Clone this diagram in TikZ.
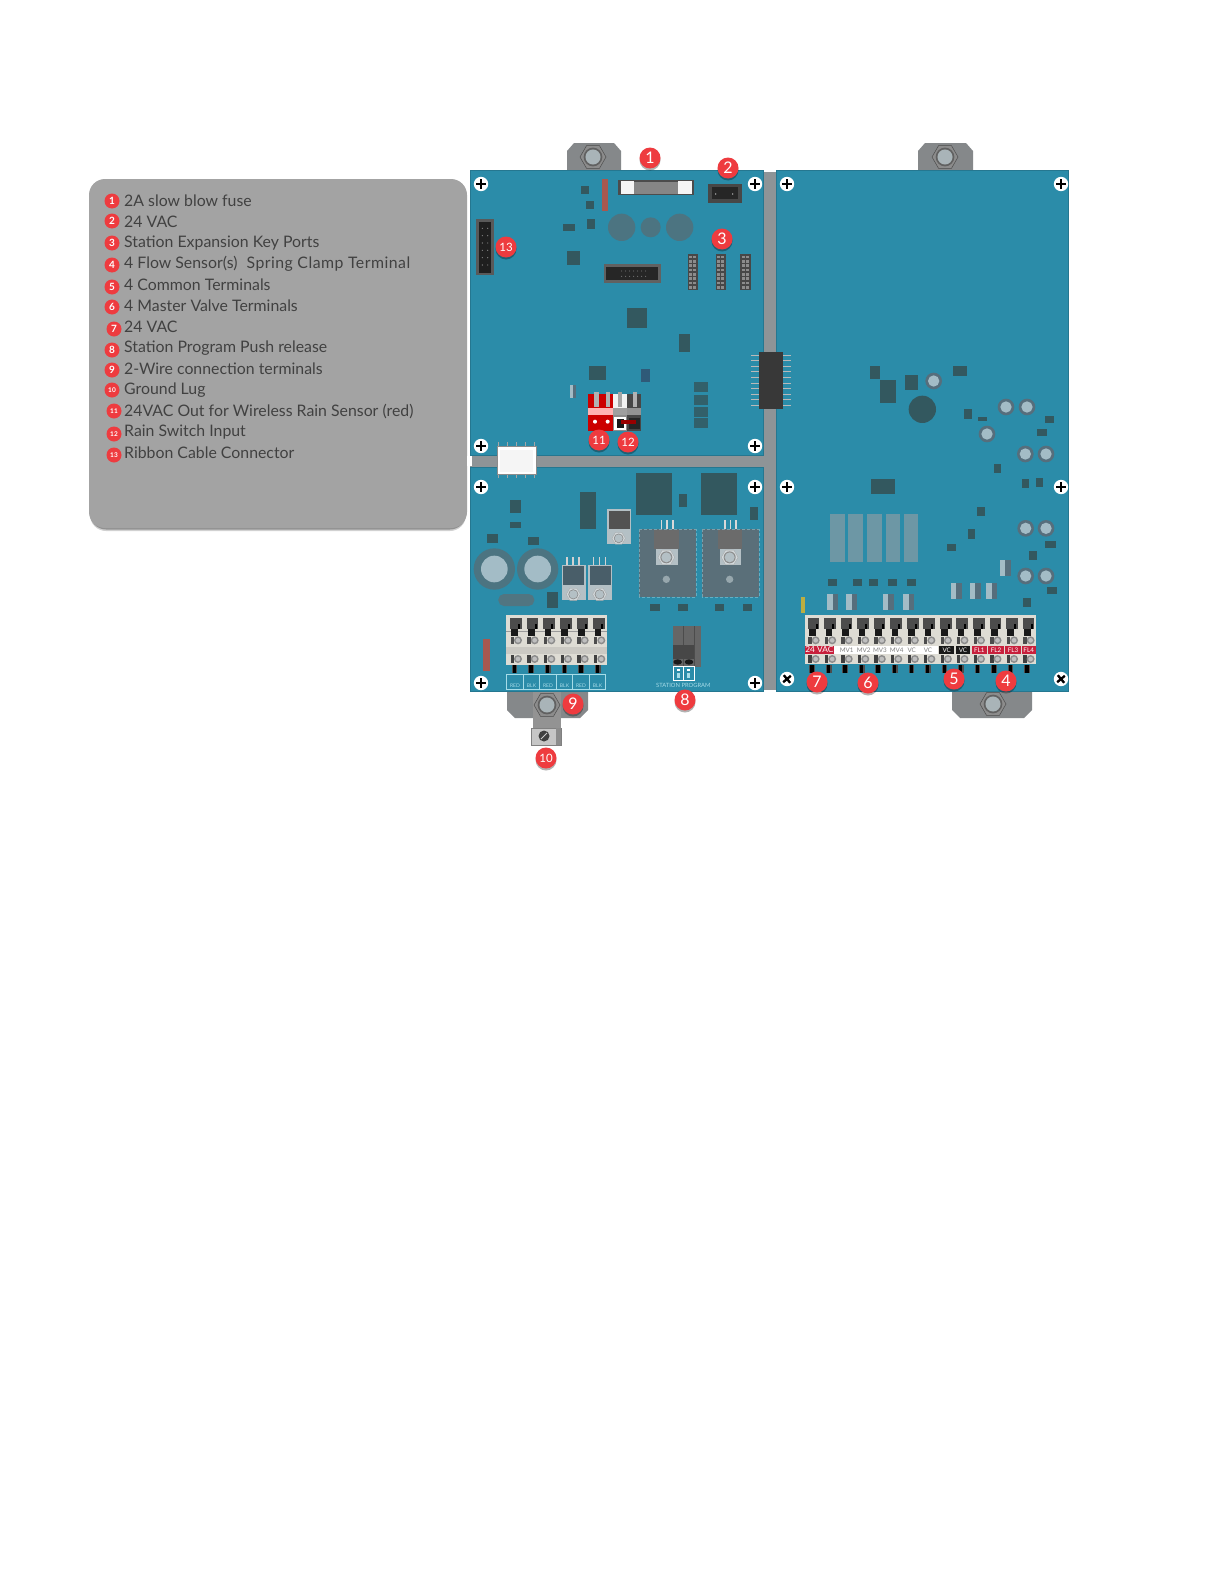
\documentclass[tikz,border=0pt]{standalone}
\usepackage{fontspec}
\setmainfont{Lato}
\usetikzlibrary{shadows}
\definecolor{boardc}{HTML}{2B8CA9}
\definecolor{chipc}{HTML}{33585F}
\definecolor{softc}{HTML}{4C7481}
\definecolor{barc}{HTML}{8E9497}
\definecolor{tabc}{HTML}{85888A}
\definecolor{redc}{HTML}{EE3B3F}
\definecolor{rustc}{HTML}{A8584F}
\definecolor{ringc}{HTML}{566E7C}
\definecolor{capc}{HTML}{A3BCC6}
\definecolor{labelred}{HTML}{C8203C}
\definecolor{txtc}{HTML}{414141}
\definecolor{pale}{HTML}{A6DCE8}
\definecolor{sinkc}{HTML}{5A6F79}
\definecolor{relayc}{HTML}{6D97A5}
\definecolor{plate}{HTML}{B4C0C5}
\definecolor{termbg}{HTML}{DEDCD4}
\definecolor{bluechip}{HTML}{2F5A78}
\tikzset{
  badge/.style={circle,fill=redc,text=white,minimum size=21pt,inner sep=0pt,
    font=\fontsize{16}{16}\selectfont,drop shadow={shadow xshift=0pt,shadow yshift=-2pt,fill=black,opacity=.3}},
  minibadge/.style={circle,fill=redc,text=white,minimum size=15pt,inner sep=0pt,font=\fontsize{10}{10}\selectfont\bfseries},
  legendtext/.style={anchor=west,inner sep=0pt,text=txtc,font=\fontsize{15.85}{16}\selectfont},
  striplabel/.style={inner sep=0pt,font=\fontsize{6.3}{7}\selectfont},
  tinylabel/.style={inner sep=0pt,text=pale,font=\fontsize{5}{6}\selectfont},
  zoomA/.style={shift={(465,135)},x=.33333pt,y=-.33333pt},
  zoomB/.style={shift={(465,450)},x=.33333pt,y=-.33333pt},
  zoomC/.style={shift={(770,135)},x=.33333pt,y=-.33333pt},
  zoomD/.style={shift={(770,470)},x=.33333pt,y=-.33333pt},
}
\newcommand\bx[5]{\fill[#5] (#1,#2) rectangle (#3,#4);}
\newcommand\capring[2]{\fill[ringc] (#1,#2) circle (25);\fill[capc] (#1,#2) circle (17);}
\newcommand\hexnut[3]{\begin{scope}[shift={(#1,#2)}]
  \fill[black!45,draw=black!70,line width=.5pt] (0:#3)--(60:#3)--(120:#3)--(180:#3)--(240:#3)--(300:#3)--cycle;
  \fill[black!62] (0,0) circle (#3*.72);
  \fill[capc!55!gray!80] (0,0) circle (#3*.58);\end{scope}}
\newcommand\lightnut[3]{\begin{scope}[shift={(#1,#2)}]
  \fill[plate!60!white,draw=gray!70,line width=.3pt] (0:#3)--(60:#3)--(120:#3)--(180:#3)--(240:#3)--(300:#3)--cycle;
  \fill[gray!90] (0,0) circle (#3*.72);
  \fill[plate] (0,0) circle (#3*.6);\end{scope}}
\newcommand\screwmark[3]{\begin{scope}[shift={(#1,#2)},rotate=#3]
  \fill[white] (0,0) circle (7.2);
  \draw[black,line width=2.3pt] (-5,0)--(5,0) (0,-5)--(0,5);\end{scope}}
\newcommand\termcol{%
  \bx{0}{443}{35}{478}{black!70}
  \bx{24}{462}{30}{478}{black}
  \bx{4}{478}{24}{498}{black!90}
  \fill[gray!90] (24,511) circle (12);\fill[gray!50] (24,511) circle (7);
  \bx{2}{500}{12}{522}{black!70}
  \bx{2}{556}{12}{578}{black!75}
  \fill[gray!90] (24,567) circle (12);\fill[gray!50] (24,567) circle (7);
  \bx{5}{584}{22}{608}{black!70}
  \bx{8}{584}{18}{608}{black}}
\begin{document}
\begin{tikzpicture}[x=1pt,y=-1pt]
\useasboundingbox (0,0) rectangle (1224,1584);
\fill[white] (0,0) rectangle (1224,1584);
% legend panel
\fill[black,opacity=.18,rounded corners=16pt] (90,183) rectangle (466,531);
\fill[black,opacity=.3,rounded corners=16pt] (90,183) rectangle (466,529.5);
\fill[black!36,rounded corners=16pt] (89,179) rectangle (467,528);
\foreach \n/\bxx/\byy/\lab in {
 1/112/201/{2A slow blow fuse},
 2/112/221/{24 VAC},
 3/112/243/{Station Expansion Key Ports},
 4/112/265/{4 Flow Sensor(s)\ \ \hspace{1pt}{\addfontfeature{LetterSpace=3}Spring Clamp Terminal}},
 5/112/287/{4 Common Terminals},
 6/112/307/{4 Master Valve Terminals},
 7/114/329/{24 VAC},
 8/112/350/{Station Program Push release},
 9/112/370/{2-Wire connection terminals},
 10/112/390/{Ground Lug},
 11/114/411/{24VAC Out for Wireless Rain Sensor (red)},
 12/114/434/{Rain Switch Input},
 13/114/455/{Ribbon Cable Connector}}{
  \pgfmathsetmacro\ty{201.2+21*(\n-1)}
  \ifnum\n>9
    \node[minibadge,font=\fontsize{6.5}{7}\selectfont\bfseries] (lb\n) at (\bxx,\byy) {\n};
  \else
    \node[minibadge] (lb\n) at (\bxx,\byy) {\n};
  \fi
  \node[legendtext] (lt\n) at (124,\ty) {\lab};
}
% tabs behind the boards
\fill[tabc] (567,171)--(567,151)--(574,143)--(614,143)--(621,151)--(621,171)--cycle;
\fill[tabc] (918,171)--(918,151)--(925,143)--(966,143)--(973,151)--(973,171)--cycle;
\fill[tabc] (952,690)--(952,710)--(960,718)--(1024,718)--(1032,710)--(1032,690)--cycle;
\fill[tabc] (507,690)--(507,710)--(515,718)--(580,718)--(588,710)--(588,690)--cycle;
\hexnut{593}{157}{13}
\hexnut{945}{157}{13}
\hexnut{993}{704}{13}
% grey frame
\bx{470}{455}{763}{467}{barc}
\bx{763}{172}{776}{690}{barc}
\bx{467}{456}{472}{466}{white}
% boards
\fill[boardc,draw=boardc!85!black,line width=.4pt] (470,170) rectangle (763,455);
\fill[boardc,draw=boardc!85!black,line width=.4pt] (470,467) rectangle (763,691);
\fill[boardc,draw=boardc!85!black,line width=.4pt] (776,170) rectangle (1068,691);
% ground lug
\fill[gray!85] (533,692) rectangle (561,728);
\hexnut{547}{705}{13}
\fill[gray!45,draw=gray] (531,728) rectangle (561,745);
\fill[gray!90] (556,728) rectangle (561,745);
\fill[black!75] (544,736) circle (5.5);
\draw[gray!40,line width=.8pt] (541,739)--(547,733);
% bridge connector
\foreach \k in {0,...,9}{
  \draw[gray!55,line width=1pt] (751,355+5.6*\k)--(791,355+5.6*\k);
}
\bx{759}{352}{783}{409}{black!78}
% white connector on the bar
\foreach \k in {0,...,4}{
  \draw[gray!70,line width=.8pt] (498+\k*9,442)--(498+\k*9,478);
}
\fill[white,draw=gray!90,line width=.8pt] (497,446) rectangle (536,474);
\fill[gray!8] (500,450) rectangle (533,472);
% ---- upper left board
\begin{scope}[zoomA]
\bx{349}{153}{372}{178}{chipc}
\bx{363}{197}{387}{222}{chipc}
\bx{367}{253}{390}{282}{chipc}
\bx{293}{267}{330}{288}{chipc}
\bx{306}{347}{345}{390}{chipc}
\bx{411}{133}{429}{228}{rustc}
\fill[softc] (470,277) circle (41);
\fill[softc] (557,277) circle (30);
\fill[softc] (644,277) circle (41);
\bx{458}{135}{688}{180}{black!70}
\bx{507}{140}{640}{177}{gray!95}
\bx{468}{138}{507}{177}{white!92!gray}
\bx{640}{138}{680}{177}{white!92!gray}
\bx{729}{147}{830}{203}{black!72}
\bx{740}{155}{820}{192}{black!85}
\fill[white] (752,177) circle (2);\fill[white] (803,177) circle (2);
\bx{33}{252}{86}{421}{black!65}
\bx{42}{262}{78}{413}{black!88}
\foreach \k in {0,...,5}{
  \fill[gray] (52,280+\k*22) circle (2);\fill[gray] (68,280+\k*22) circle (2);
}
\bx{417}{388}{588}{443}{black!62}
\bx{424}{396}{580}{436}{black!85}
\foreach \k in {0,...,6}{
  \fill[gray] (470+\k*12,408) circle (1.6);\fill[gray] (470+\k*12,424) circle (1.6);
}
\foreach \px in {668,752,826}{
  \bx{\px}{357}{\px+31}{464}{black!72}
  \foreach \k in {0,...,7}{
    \bx{\px+5}{362+\k*13}{\px+13}{370+\k*13}{gray!90}
    \bx{\px+17}{362+\k*13}{\px+25}{370+\k*13}{gray!90}
  }
}
\bx{487}{520}{546}{578}{chipc}
\bx{643}{598}{675}{651}{chipc}
\bx{371}{693}{423}{736}{chipc}
\bx{527}{701}{555}{742}{bluechip}
\bx{688}{741}{728}{772}{chipc!85!boardc}
\bx{688}{780}{728}{810}{chipc!85!boardc}
\bx{688}{815}{728}{845}{chipc!85!boardc}
\bx{688}{849}{728}{879}{chipc!85!boardc}
\bx{315}{750}{333}{790}{capc}
\bx{324}{750}{333}{790}{ringc}
% rain terminals
\bx{368}{778}{444}{888}{red!80!black}
\bx{444}{778}{486}{888}{gray!90}
\bx{486}{778}{529}{888}{black!72}
\bx{444}{778}{486}{820}{white!90!gray}
\bx{368}{820}{444}{840}{red!30!white}
\bx{444}{820}{486}{840}{gray!75}
\bx{486}{820}{529}{840}{gray!85}
\bx{388}{772}{402}{815}{gray!60}
\bx{422}{772}{436}{815}{gray!60}
\bx{458}{772}{472}{815}{gray!70}
\bx{503}{772}{517}{815}{gray!60}
\fill[white] (390,860) circle (6);
\fill[white] (428,860) circle (6);
\bx{448}{846}{484}{885}{white}
\bx{455}{852}{478}{878}{black!90}
\bx{491}{848}{525}{882}{black!85}
\bx{468}{854}{512}{868}{red!60!black}
\end{scope}
% ---- lower left board
\begin{scope}[zoomB]
\bx{513}{68}{621}{195}{chipc}
\bx{707}{68}{815}{195}{chipc}
\bx{643}{133}{666}{172}{chipc}
\bx{856}{172}{878}{211}{chipc}
\bx{345}{126}{392}{238}{chipc}
\bx{134}{150}{167}{190}{chipc}
\bx{134}{216}{168}{234}{chipc}
\bx{66}{252}{100}{280}{chipc}
\bx{188}{262}{221}{286}{chipc}
\bx{246}{427}{279}{473}{chipc}
\fill[softc!90!gray,rounded corners=5.6pt] (100,432) rectangle (208,468);
\fill[softc] (88,357) circle (62);\fill[capc] (88,357) circle (40);
\fill[softc] (218,357) circle (62);\fill[capc] (218,357) circle (40);
% regulators
\fill[plate] (426,176) rectangle (498,282);
\bx{432}{182}{494}{238}{black!68}
\lightnut{461}{265}{20}
\foreach \px in {290,369}{
  \foreach \k in {0,1,2}{\bx{\px+14+\k*18}{320}{\px+18+\k*18}{345}{gray!35}}
  \fill[plate] (\px,345) rectangle (\px+72,450);
  \bx{\px+5}{348}{\px+68}{405}{ringc!85!black}
  \lightnut{\px+35}{433}{21}
}
\foreach \sx in {0,190}{
  \begin{scope}[shift={(\sx,0)}]
  \bx{522}{238}{692}{440}{sinkc}
  \draw[pale,opacity=.45,densely dashed,line width=.3pt] (522,238) rectangle (692,440);
  \foreach \k in {0,1,2}{\bx{587+\k*17}{210}{592+\k*17}{238}{gray!30}}
  \bx{568}{240}{642}{298}{black!58}
  \bx{574}{298}{638}{346}{plate}
  \lightnut{604}{322}{25}
  \fill[capc!65!gray] (604,388) circle (11);
  \end{scope}
}
\bx{556}{462}{584}{482}{chipc}
\bx{640}{462}{668}{482}{chipc}
\bx{750}{462}{776}{482}{chipc}
\bx{833}{462}{860}{482}{chipc}
\bx{54}{566}{74}{662}{rustc}
% station program switch
\bx{624}{528}{708}{650}{gray!80!black}
\bx{624}{528}{656}{650}{black!60}
\bx{656}{528}{688}{650}{black!60}
\draw[black!70,line width=.4pt] (656,528)--(656,650) (688,528)--(688,650);
\bx{624}{585}{688}{628}{black!72}
\fill[black!90] (638,636) ellipse (13 and 8);
\fill[black!90] (672,636) ellipse (13 and 8);
\foreach \px in {624,656}{
  \draw[white,line width=.5pt] (\px,650) rectangle (\px+31,692);
  \bx{\px+11}{656}{\px+20}{664}{white}
  \bx{\px+11}{670}{\px+20}{685}{pale}
}
% wire block
\bx{124}{495}{426}{645}{termbg}
\bx{124}{590}{426}{612}{termbg!80!gray}
\draw[black!40,line width=.4pt] (124,545)--(426,545);
\foreach \k in {0,...,5}{
  \begin{scope}[shift={(135+50*\k,60)}]\termcol\end{scope}
}
\foreach \k/\wlab in {0/RED,1/BLK,2/RED,3/BLK,4/RED,5/BLK}{
  \draw[pale,line width=.5pt] (125+\k*49.5,672) rectangle (125+\k*49.5+49.5,717);
  \node[tinylabel] (wl\k) at (125+\k*49.5+25,707) {\wlab};
}
\node[tinylabel,font=\fontsize{5.8}{6}\selectfont] (stationprog) at (655,707) {STATION PROGRAM};
\end{scope}
% ---- upper part of right board
\begin{scope}[zoomC]
\bx{299}{693}{330}{733}{chipc}
\bx{331}{736}{378}{805}{chipc}
\bx{406}{719}{444}{764}{chipc}
\bx{549}{692}{590}{724}{chipc}
\fill[chipc] (457,823) circle (41);
\capring{491}{738}
\bx{583}{823}{605}{852}{chipc}
\bx{625}{846}{651}{859}{chipc}
\capring{708}{816}
\capring{771}{816}
\capring{651}{897}
\capring{766}{957}
\capring{828}{957}
\bx{825}{842}{853}{863}{chipc}
\bx{802}{882}{831}{903}{chipc}
\bx{672}{987}{692}{1015}{chipc}
\end{scope}
% ---- lower part of right board
\begin{scope}[zoomD]
\bx{303}{27}{376}{73}{chipc}
\foreach \px in {180,235,291,347,401}{\bx{\px}{133}{\px+44}{275}{relayc}}
\foreach \px in {174,249,296,354,410}{\bx{\px}{327}{\px+28}{349}{chipc}}
\foreach \px/\py in {172/373,229/373,339/373,400/373,543/338,600/338,649/338,689/270}{
  \bx{\px}{\py}{\px+16}{\py+48}{capc}
  \bx{\px+16}{\py}{\px+33}{\py+48}{ringc}
}
\fill[rustc!30!yellow!60!gray] (94,382) rectangle (104,430);
\bx{622}{110}{644}{137}{chipc}
\bx{594}{178}{615}{206}{chipc}
\bx{532}{223}{559}{243}{chipc}
\bx{757}{28}{777}{55}{chipc}
\bx{798}{24}{820}{50}{chipc}
\bx{778}{242}{802}{270}{chipc}
\bx{826}{213}{858}{233}{chipc}
\bx{832}{352}{862}{373}{chipc}
\bx{759}{384}{783}{410}{chipc}
\bx{672}{0}{692}{10}{chipc}
\capring{767}{175}
\capring{828}{175}
\capring{767}{318}
\capring{828}{318}
% terminal strip
\bx{104}{435}{798}{582}{termbg}
\foreach \k in {0,...,13}{
  \begin{scope}[shift={(113+49.6*\k,0)}]\termcol\end{scope}
}
\bx{104}{528}{192}{552}{labelred}
\bx{192}{528}{505}{552}{white}
\bx{507}{528}{553}{552}{black!90}
\bx{558}{528}{600}{552}{black!90}
\bx{605}{528}{650}{552}{labelred}
\bx{655}{528}{702}{552}{labelred}
\bx{706}{528}{752}{552}{labelred}
\bx{755}{528}{798}{552}{labelred}
\node[striplabel,text=white,font=\fontsize{8.3}{9}\selectfont] (s24) at (148,540) {24 VAC};
\foreach \nm/\xx/\cc in {MV1/230/gray,MV2/281/gray,MV3/330/gray,MV4/380/gray,VC/425/gray,VC/474/gray,VC/530/white,VC/579/white,FL1/628/white,FL2/678/white,FL3/729/white,FL4/776/white}{
  \node[striplabel,text=\cc] (s\xx) at (\xx,540) {\nm};
}
\end{scope}
% screws
\screwmark{481}{184}{0}
\screwmark{755}{184}{0}
\screwmark{481}{446}{0}
\screwmark{755}{446}{0}
\screwmark{481}{487}{0}
\screwmark{755}{487}{0}
\screwmark{481}{683}{0}
\screwmark{755}{683}{0}
\screwmark{787}{184}{0}
\screwmark{1061}{184}{0}
\screwmark{787}{487}{0}
\screwmark{1061}{487}{0}
\screwmark{787}{679}{40}
\screwmark{1061}{679}{40}
% numbered badges
\node[badge] (b1) at (650,158) {1};
\node[badge] (b2) at (728,168) {2};
\node[badge] (b3) at (722,239) {3};
\node[badge] (b4) at (1006,681) {4};
\node[badge] (b5) at (954,679) {5};
\node[badge] (b6) at (868,683) {6};
\node[badge] (b7) at (817,682) {7};
\node[badge] (b8) at (685,700) {8};
\node[badge] (b9) at (573,704) {9};
\node[badge,font=\fontsize{11.5}{12}\selectfont] (b10) at (546,758) {10};
\node[badge,font=\fontsize{11.5}{12}\selectfont] (b11) at (599,440) {11};
\node[badge,font=\fontsize{11.5}{12}\selectfont] (b12) at (628,442) {12};
\node[badge,font=\fontsize{11.5}{12}\selectfont] (b13) at (506,247) {13};
\end{tikzpicture}
\end{document}
